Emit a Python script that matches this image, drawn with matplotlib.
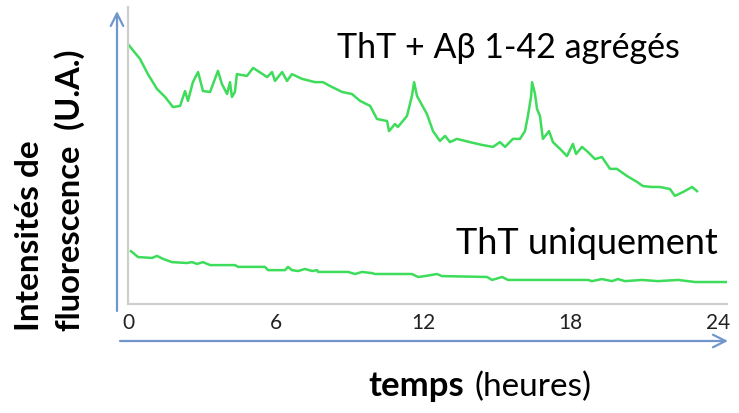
import matplotlib
matplotlib.use('Agg')
import matplotlib.pyplot as plt

# Courbe ThT + Abeta 1-42 agreges (temps en heures, intensite en U.A.)
t_agg = [0.00, 0.49, 0.81, 1.18, 1.51, 1.83, 2.12, 2.32, 2.44, 2.64, 2.85, 3.05,
         3.34, 3.66, 3.82, 4.03, 4.15, 4.23, 4.35, 4.43, 4.84, 5.09, 5.66, 5.86,
         5.98, 6.27, 6.47, 6.67, 7.08, 7.61, 7.93, 8.22, 8.71, 9.11, 9.44, 9.85,
         10.13, 10.54, 10.62, 10.86, 10.98, 11.35, 11.55, 11.64, 11.76, 12.16,
         12.41, 12.69, 12.90, 13.10, 13.38, 13.91, 14.44, 14.85, 15.13, 15.34,
         15.66, 15.95, 16.15, 16.27, 16.40, 16.44, 16.56, 16.64, 16.76, 16.88,
         17.13, 17.29, 17.58, 17.86, 18.10, 18.23, 18.47, 18.71, 19.00, 19.28,
         19.61, 19.89, 20.30, 20.71, 20.95, 21.32, 21.64, 22.05, 22.25, 22.58,
         22.95, 23.15]
y_agg = [87.5, 82.5, 77.4, 72.4, 69.7, 66.3, 66.7, 71.7, 68.4, 74.7, 78.1, 71.7,
         71.4, 78.5, 74.1, 70.7, 74.7, 69.7, 71.4, 77.4, 76.8, 79.5, 76.4, 78.1,
         75.1, 78.1, 75.1, 77.4, 75.8, 74.7, 74.7, 73.4, 71.4, 70.7, 68.4, 66.7,
         62.3, 61.6, 58.2, 60.6, 59.6, 63.3, 70.0, 74.7, 70.0, 64.0,
         58.2, 54.9, 56.6, 54.5, 55.6, 54.5, 53.5, 52.9, 54.5, 52.9,
         55.6, 55.6, 58.2, 63.3, 70.0, 74.7, 70.7, 65.7, 63.3, 55.6,
         58.2, 54.5, 52.2, 49.8, 53.9, 50.5, 52.9, 51.2, 48.8, 49.5,
         45.5, 45.5, 43.1, 41.1, 39.7, 39.4, 39.4, 38.7, 36.4, 37.7,
         39.4, 38.0]

# Courbe ThT uniquement
t_tht = [0.12, 0.41, 0.98, 1.18, 1.42, 1.79, 2.40, 2.60, 2.81, 3.05, 3.34, 4.35,
         4.48, 5.57, 5.70, 6.39, 6.51, 6.67, 6.92, 7.20, 7.49, 7.69, 7.73, 8.95,
         9.24, 9.52, 9.93, 10.05, 11.55, 11.80, 12.08, 12.57, 12.77, 14.61, 14.81,
         15.22, 15.46, 18.71, 18.88, 19.28, 19.69, 19.93, 20.22, 20.91, 21.56,
         22.38, 23.07, 24.37]
y_tht = [17.8, 15.8, 15.5, 16.2, 15.2, 14.1, 13.8, 14.1, 13.5, 14.1, 13.1, 13.1,
         12.5, 12.5, 11.4, 11.4, 12.5, 11.4, 11.1, 11.8, 11.1, 11.4, 10.8, 10.8,
         10.1, 10.8, 10.4, 10.1, 10.1, 9.1, 9.4, 10.1, 9.4, 9.1, 8.1,
         9.1, 8.1, 8.1, 7.7, 8.4, 7.7, 8.4, 7.7, 8.1, 7.7,
         8.1, 7.4, 7.4]

x_ticks = [0, 6, 12, 18, 24]

plt.rcParams['font.family'] = ['Lato', 'DejaVu Sans']

W, H = 739, 414
fig = plt.figure(figsize=(W / 100, H / 100), dpi=100)
ax = fig.add_axes([128 / W, (H - 305) / H, (727 - 128) / W, (305 - 8) / H])

vert = '#3ddc5a'
ax.plot(t_agg, y_agg, color=vert, lw=1.8)
ax.plot(t_tht, y_tht, color=vert, lw=1.8)

ax.set_xlim(0, 24.37)
ax.set_ylim(0, 100)
for s in ['top', 'right']:
    ax.spines[s].set_visible(False)
for s in ['left', 'bottom']:
    ax.spines[s].set_color('#cfcfcf')
    ax.spines[s].set_linewidth(1.6)
ax.set_yticks([])
ax.set_xticks(x_ticks)
ax.set_xticklabels([str(v) for v in x_ticks], fontsize=15, color='#222222')
ax.tick_params(axis='x', length=0, pad=6)

# fleches bleues des axes
bleu = '#7097cc'
arrow = dict(arrowstyle='->,head_length=0.9,head_width=0.45', color=bleu, lw=1.6,
             shrinkA=0, shrinkB=0)
ax.annotate('', xy=(117, H - 12), xytext=(117, H - 312), xycoords='figure pixels',
            textcoords='figure pixels', arrowprops=arrow, annotation_clip=False)
ax.annotate('', xy=(728, H - 342), xytext=(120, H - 342), xycoords='figure pixels',
            textcoords='figure pixels', arrowprops=arrow, annotation_clip=False)

def fp(x, y):
    return x / W, (H - y) / H

fig.text(*fp(508, 48), 'ThT + Aβ 1-42 agrégés', fontsize=24.5, ha='center', va='center')
fig.text(*fp(718, 244), 'ThT uniquement', fontsize=26, ha='right', va='center')

fig.text(*fp(30, 331), 'Intensités de', fontsize=24, fontweight='bold', rotation=90,
         ha='center', va='bottom')
fig.text(*fp(70, 331), 'fluorescence  (U.A.)', fontsize=23.5, fontweight='bold',
         rotation=90, ha='center', va='bottom')

fig.text(*fp(464, 396), 'temps', fontsize=25, fontweight='bold', ha='right',
         va='baseline')
fig.text(*fp(474, 396), '(heures)', fontsize=24, ha='left', va='baseline')

fig.savefig('out.png', dpi=100)
